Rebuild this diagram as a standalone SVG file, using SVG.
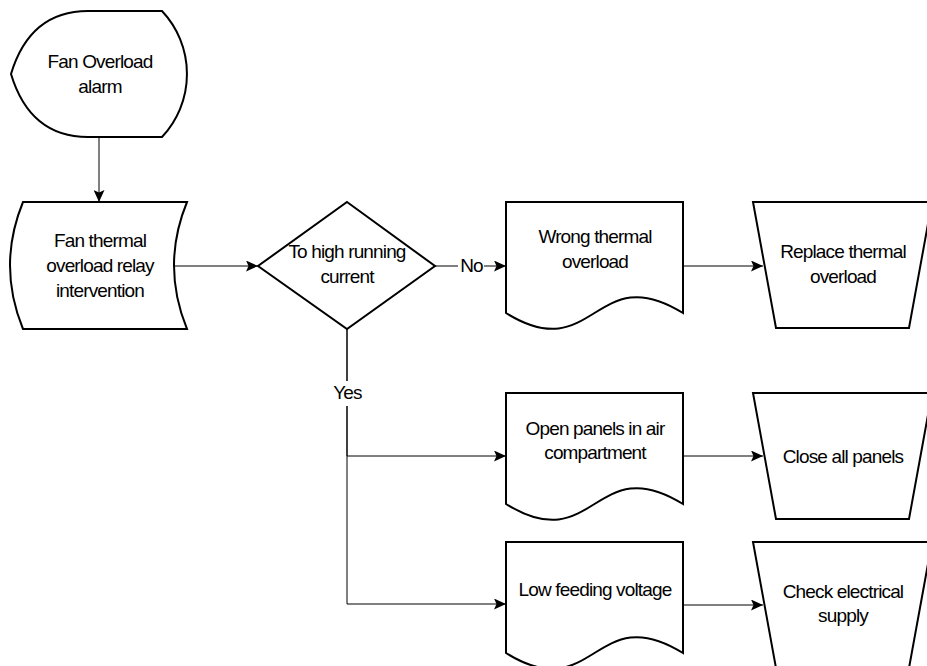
<svg xmlns="http://www.w3.org/2000/svg" width="927" height="666" viewBox="0 0 927 666">
<defs>
<marker id="arr" viewBox="0 0 12 11" refX="12" refY="5.5" markerWidth="12" markerHeight="11" markerUnits="userSpaceOnUse" orient="auto">
<path d="M0,0 L12,5.5 L0,11 L2.5,5.5 Z" fill="#000"/>
</marker>
<style>
.shape{fill:#fff;stroke:#000;stroke-width:2;stroke-linejoin:miter}
.conn{fill:none;stroke:#000;stroke-width:1;marker-end:url(#arr)}
.t{font-family:"Liberation Sans",Arial,sans-serif;font-size:19px;letter-spacing:-0.85px;fill:#000;text-anchor:middle}
.lbg{fill:#fff}
</style>
</defs>
<rect width="927" height="666" fill="#fff"/>
<g id="connectors">
<path class="conn" d="M99,137 V202"/>
<path class="conn" d="M175,266 H258"/>
<path class="conn" d="M435,266 H506"/>
<path class="conn" d="M683,266 H763"/>
<path class="conn" d="M347,329 V456 H506"/>
<path class="conn" d="M347,329 V604 H506"/>
<path class="conn" d="M683,456 H763"/>
<path class="conn" d="M683,605 H763"/>
<rect class="lbg" x="458" y="256" width="26" height="20"/>
<text class="t" x="471.5" y="272">No</text>
<rect class="lbg" x="331" y="381" width="34" height="25"/>
<text class="t" x="347.5" y="399">Yes</text>
</g>
<g id="n1">
<path class="shape" d="M88,11 H162 A92,92 0 0 1 162,137 H88 Q30,137 11,74 Q30,11 88,11 Z"/>
<text class="t" x="100" y="68">Fan Overload</text>
<text class="t" x="100" y="93">alarm</text>
</g>
<g id="n2">
<path class="shape" d="M23,202 H187 Q161,265.5 187,329 H23 Q-3,265.5 23,202 Z"/>
<text class="t" x="100" y="247">Fan thermal</text>
<text class="t" x="100" y="272">overload relay</text>
<text class="t" x="100" y="297">intervention</text>
</g>
<g id="n3">
<path class="shape" d="M347,202 L435,266 L347,329 L258,266 Z"/>
<text class="t" x="347" y="258">To high running</text>
<text class="t" x="347" y="283">current</text>
</g>
<g id="n4">
<path class="shape" d="M506,202 H683 V313 C594.5,258 594.5,368 506,313 Z"/>
<text class="t" x="595" y="243">Wrong thermal</text>
<text class="t" x="595" y="268">overload</text>
</g>
<g id="n5">
<path class="shape" d="M753,202 H932 L909,328 H776 Z"/>
<text class="t" x="843" y="258">Replace thermal</text>
<text class="t" x="843" y="283">overload</text>
</g>
<g id="n6">
<path class="shape" d="M506,393 H683 V504 C594.5,449 594.5,559 506,504 Z"/>
<text class="t" x="595" y="435">Open panels in air</text>
<text class="t" x="595" y="459">compartment</text>
</g>
<g id="n7">
<path class="shape" d="M753,393 H932 L909,519 H776 Z"/>
<text class="t" x="843" y="463">Close all panels</text>
</g>
<g id="n8">
<path class="shape" d="M506,542 H683 V653 C594.5,598 594.5,708 506,653 Z"/>
<text class="t" x="595" y="596">Low feeding voltage</text>
</g>
<g id="n9">
<path class="shape" d="M753,542 H932 L909,668 H776 Z"/>
<text class="t" x="843" y="598">Check electrical</text>
<text class="t" x="843" y="622">supply</text>
</g>
</svg>
